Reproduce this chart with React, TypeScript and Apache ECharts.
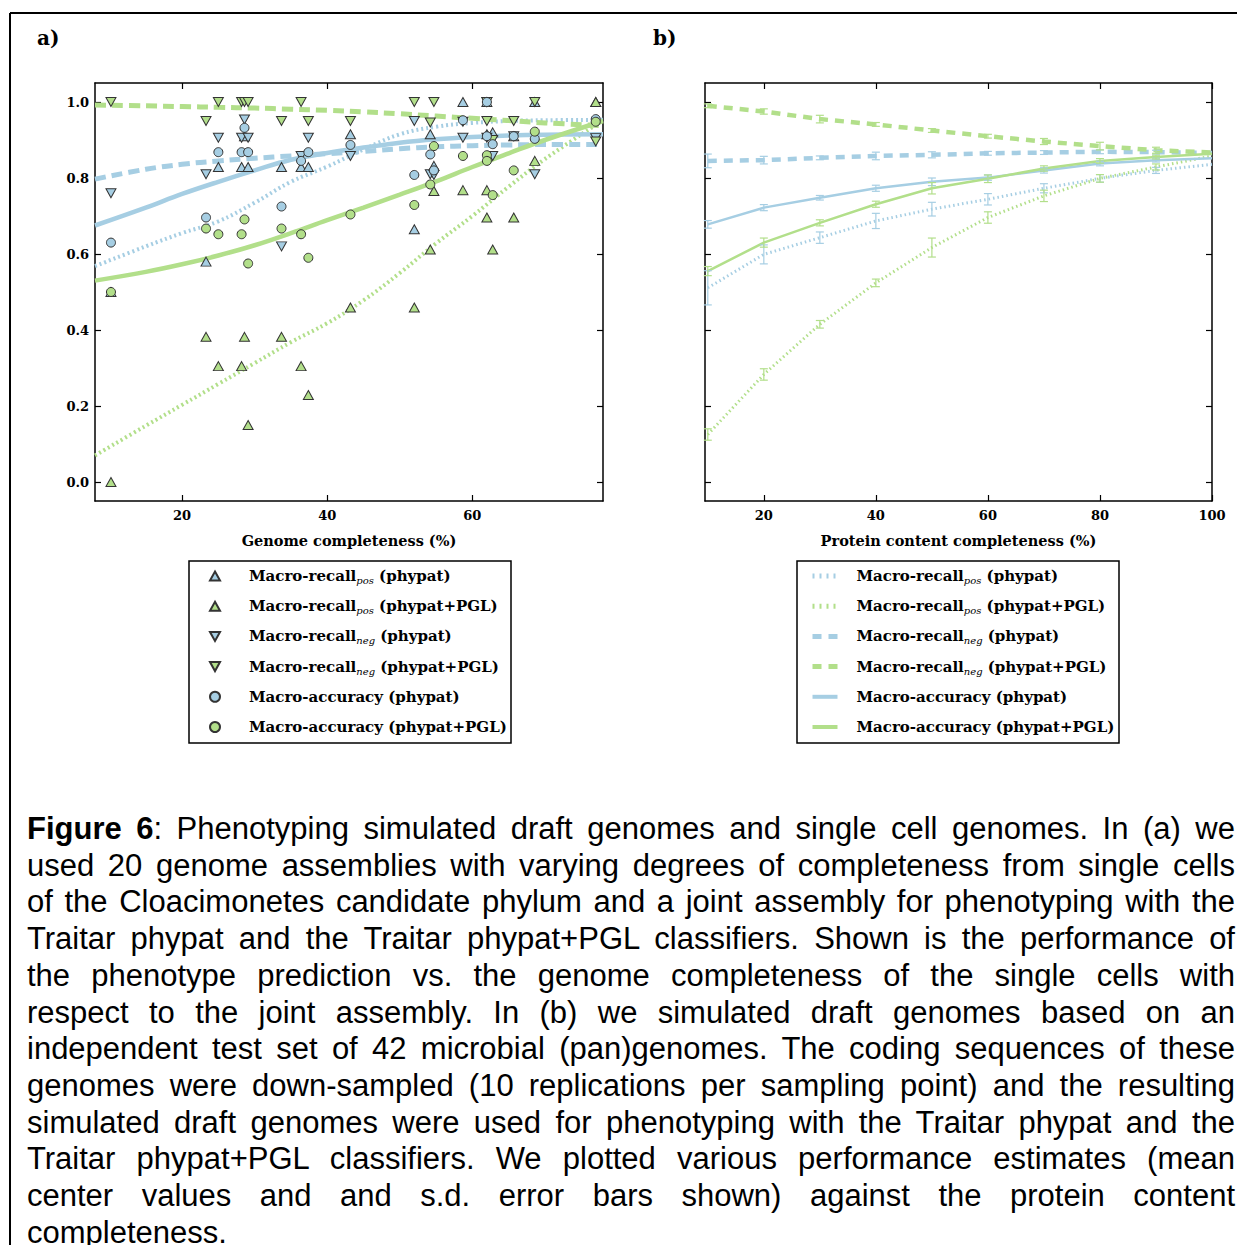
import React, { useEffect, useRef } from "react";
import * as echarts from "echarts";

const BLUE = "#a6cee3";
const GREEN = "#b2df8a";
const SERIF = '"DejaVu Serif", serif';

// ---------- Panel a: single-cell genomes ----------
const genomeCompleteness = [10.2, 23.3, 25.0, 28.2, 28.6, 29.1, 33.7, 36.4, 37.4, 43.2, 52.0, 54.2, 54.7, 58.7, 62.0, 62.0, 62.8, 65.7, 68.6, 77.0];
const recallPosPhypat = [0.5, 0.58, 0.829, 0.829, 0.91, 0.829, 0.829, 0.829, 0.829, 0.915, 0.665, 0.915, 0.832, 1.0, 1.0, 0.915, 0.92, 0.91, 1.0, 1.0];
const recallPosPGL = [0.0, 0.382, 0.305, 0.305, 0.382, 0.15, 0.382, 0.305, 0.229, 0.459, 0.459, 0.612, 0.766, 0.768, 0.768, 0.696, 0.612, 0.696, 0.845, 1.0];
const recallNegPhypat = [0.76, 0.81, 0.906, 0.906, 0.954, 0.906, 0.62, 0.858, 0.906, 0.858, 0.95, 0.81, 0.808, 0.906, 1.0, 0.906, 0.858, 0.91, 0.81, 0.905];
const recallNegPGL = [1.0, 0.95, 1.0, 1.0, 1.0, 1.0, 0.95, 1.0, 0.95, 0.95, 1.0, 0.946, 1.0, 0.948, 0.95, 1.0, 0.9, 0.95, 1.0, 0.896];
const accPhypat = [0.63, 0.696, 0.868, 0.868, 0.932, 0.868, 0.725, 0.845, 0.868, 0.887, 0.808, 0.862, 0.82, 0.952, 1.0, 0.91, 0.889, 0.91, 0.903, 0.955];
const accPGL = [0.5, 0.667, 0.652, 0.652, 0.691, 0.575, 0.667, 0.652, 0.59, 0.704, 0.729, 0.783, 0.884, 0.858, 0.86, 0.845, 0.755, 0.82, 0.922, 0.948];

// fitted trend curves
const fitX = [8, 15, 20, 25, 30, 35, 40, 45, 50, 55, 60, 65, 70, 78];
const fitPosPhypat = [0.568, 0.62, 0.655, 0.686, 0.735, 0.79, 0.83, 0.875, 0.915, 0.935, 0.945, 0.95, 0.952, 0.953];
const fitPosPGL = [0.07, 0.148, 0.203, 0.258, 0.313, 0.368, 0.418, 0.478, 0.55, 0.628, 0.7, 0.777, 0.85, 0.952];
const fitNegPhypat = [0.797, 0.823, 0.836, 0.845, 0.852, 0.858, 0.864, 0.87, 0.877, 0.882, 0.885, 0.887, 0.888, 0.888];
const fitNegPGL = [0.992, 0.99, 0.988, 0.986, 0.984, 0.981, 0.978, 0.974, 0.969, 0.963, 0.957, 0.951, 0.945, 0.938];
const fitAccPhypat = [0.675, 0.722, 0.758, 0.79, 0.82, 0.848, 0.866, 0.88, 0.893, 0.902, 0.908, 0.912, 0.914, 0.915];
const fitAccPGL = [0.53, 0.553, 0.573, 0.596, 0.623, 0.655, 0.689, 0.722, 0.756, 0.791, 0.829, 0.865, 0.9, 0.95];

// ---------- Panel b: simulated draft genomes ----------
const proteinCompleteness = [10, 20, 30, 40, 50, 60, 70, 80, 90, 100];
const bPosPhypat = [0.511, 0.599, 0.643, 0.687, 0.718, 0.744, 0.773, 0.799, 0.82, 0.836];
const bPosPhypatSd = [0.045, 0.025, 0.015, 0.02, 0.018, 0.015, 0.012, 0.01, 0.008, 0];
const bPosPGL = [0.125, 0.283, 0.415, 0.524, 0.617, 0.696, 0.753, 0.799, 0.829, 0.858];
const bPosPGLSd = [0.015, 0.015, 0.01, 0.01, 0.025, 0.015, 0.015, 0.01, 0.008, 0];
const bNegPhypat = [0.845, 0.847, 0.853, 0.858, 0.861, 0.865, 0.867, 0.869, 0.868, 0.866];
const bNegPhypatSd = [0.018, 0.01, 0.005, 0.01, 0.008, 0.005, 0.005, 0.005, 0.005, 0];
const bNegPGL = [0.99, 0.975, 0.955, 0.941, 0.925, 0.91, 0.896, 0.884, 0.873, 0.867];
const bNegPGLSd = [0.005, 0.007, 0.01, 0.005, 0.005, 0.005, 0.008, 0.01, 0.008, 0];
const bAccPhypat = [0.678, 0.722, 0.748, 0.773, 0.79, 0.801, 0.82, 0.838, 0.847, 0.852];
const bAccPhypatSd = [0.01, 0.008, 0.006, 0.008, 0.01, 0.007, 0.007, 0.006, 0.005, 0];
const bAccPGL = [0.555, 0.63, 0.682, 0.731, 0.773, 0.798, 0.825, 0.845, 0.855, 0.864];
const bAccPGLSd = [0.012, 0.012, 0.008, 0.008, 0.015, 0.01, 0.007, 0.006, 0.005, 0];

// ---------- ticks ----------
const yTicks = [0, 0.2, 0.4, 0.6, 0.8, 1.0];
const xTicksA = [20, 40, 60];
const xTicksB = [20, 40, 60, 80, 100];

// ---------- legend labels ----------
const legendLabels: Record<string, string> = {
  PosP: "{f|Macro-recall}{s|pos}{m| (phypat)}",
  PosG: "{f|Macro-recall}{s|pos}{m| (phypat+PGL)}",
  NegP: "{f|Macro-recall}{s|neg}{m| (phypat)}",
  NegG: "{f|Macro-recall}{s|neg}{m| (phypat+PGL)}",
  AccP: "{f|Macro-accuracy (phypat)}",
  AccG: "{f|Macro-accuracy (phypat+PGL)}",
};
const legendKeys = ["PosP", "PosG", "NegP", "NegG", "AccP", "AccG"];
const DOWN_TRI = "path://M0,0L10,0L5,9Z";
const UP_TRI = "path://M5,0L10,9L0,9Z";

const captionLines = [
  "Phenotyping simulated draft genomes and single cell genomes. In (a) we",
  "used 20 genome assemblies with varying degrees of completeness from single cells",
  "of the Cloacimonetes candidate phylum and a joint assembly for phenotyping with the",
  "Traitar phypat and the Traitar phypat+PGL classifiers. Shown is the performance of",
  "the phenotype prediction vs. the genome completeness of the single cells with",
  "respect to the joint assembly. In (b) we simulated draft genomes based on an",
  "independent test set of 42 microbial (pan)genomes. The coding sequences of these",
  "genomes were down-sampled (10 replications per sampling point) and the resulting",
  "simulated draft genomes were used for phenotyping with the Traitar phypat and the",
  "Traitar phypat+PGL classifiers. We plotted various performance estimates (mean",
  "center values and and s.d. error bars shown) against the protein content",
  "completeness.",
];

function richFor(pad: number) {
  const base = { fontFamily: SERIF, fontWeight: "bold", fontSize: 15, lineHeight: 20, height: 20, color: "#000" };
  return {
    f: { ...base, padding: [0, 0, 0, pad] },
    m: { ...base },
    s: { fontFamily: SERIF, fontStyle: "italic", fontWeight: "normal", fontSize: 10, lineHeight: 10, padding: [9, 0, 0, 0], color: "#000" },
  };
}

function axisCommon(min: number, max: number, ticks: number[], showLabel: boolean, gridIndex: number, position: string, isY: boolean) {
  return {
    type: "value",
    gridIndex,
    position,
    min,
    max,
    axisLine: { show: true, onZero: false, lineStyle: { color: "#000", width: 1.5 } },
    axisTick: { show: true, inside: true, length: 6, customValues: ticks, lineStyle: { color: "#000", width: 1.2 } },
    axisLabel: {
      show: showLabel,
      customValues: ticks,
      margin: isY ? 6 : 8,
      fontFamily: SERIF,
      fontWeight: "bold",
      fontSize: 13,
      color: "#000",
      formatter: isY ? (v: number) => v.toFixed(1) : (v: number) => String(v),
    },
    splitLine: { show: false },
  };
}

function pts(xs: number[], ys: number[]) {
  return xs.map((x, i) => [x, ys[i]]);
}

function scatter(name: string, ys: number[], color: string, symbol: string, rotate: number) {
  return {
    name,
    type: "scatter",
    xAxisIndex: 0,
    yAxisIndex: 0,
    data: pts(genomeCompleteness, ys),
    symbol,
    symbolRotate: rotate,
    symbolSize: symbol === "circle" ? 9 : [10, 9],
    itemStyle: { color, borderColor: "#333", borderWidth: 1, opacity: 1 },
    z: 4,
    silent: true,
  };
}

function fitLine(name: string, ys: number[], color: string, width: number, dash: any) {
  return {
    name,
    type: "line",
    xAxisIndex: 0,
    yAxisIndex: 0,
    data: pts(fitX, ys),
    smooth: 0.4,
    symbol: "none",
    showSymbol: false,
    lineStyle: { color, width, type: dash, cap: "butt" },
    itemStyle: { color },
    z: 2,
    silent: true,
  };
}

function bLine(name: string, ys: number[], color: string, width: number, dash: any) {
  return {
    name,
    type: "line",
    xAxisIndex: 2,
    yAxisIndex: 2,
    data: pts(proteinCompleteness, ys),
    symbol: "none",
    showSymbol: false,
    lineStyle: { color, width, type: dash, cap: "butt" },
    itemStyle: { color: "rgba(0,0,0,0)", borderWidth: 0 },
    z: 2,
    silent: true,
  };
}

function errBars(id: string, ys: number[], sd: number[], color: string) {
  const data = proteinCompleteness
    .map((x, i) => [x, ys[i] - sd[i], ys[i] + sd[i], sd[i]])
    .filter((d) => d[3] > 0);
  return {
    id,
    type: "custom",
    xAxisIndex: 2,
    yAxisIndex: 2,
    data,
    encode: { x: 0, y: [1, 2] },
    z: 3,
    silent: true,
    renderItem: (params: any, api: any) => {
      const lo = api.coord([api.value(0), api.value(1)]);
      const hi = api.coord([api.value(0), api.value(2)]);
      const w = 4;
      const style = { stroke: color, lineWidth: 1.2 };
      return {
        type: "group",
        children: [
          { type: "line", shape: { x1: lo[0], y1: lo[1], x2: hi[0], y2: hi[1] }, style },
          { type: "line", shape: { x1: lo[0] - w, y1: lo[1], x2: lo[0] + w, y2: lo[1] }, style },
          { type: "line", shape: { x1: hi[0] - w, y1: hi[1], x2: hi[0] + w, y2: hi[1] }, style },
        ],
      };
    },
  };
}

const DOT_A = [2, 3];
const DASH_A = [11, 6];
const DOT_B = [1.5, 3];
const DASH_B = [9, 7];

const legendLineStyleB: Record<string, any> = {
  PosP: { color: BLUE, width: 5, type: [2, 5], cap: "butt" },
  PosG: { color: GREEN, width: 5, type: [2, 5], cap: "butt" },
  NegP: { color: BLUE, width: 5, type: [9, 7], cap: "butt" },
  NegG: { color: GREEN, width: 5, type: [9, 7], cap: "butt" },
  AccP: { color: BLUE, width: 4, type: "solid", cap: "butt" },
  AccG: { color: GREEN, width: 4, type: "solid", cap: "butt" },
};

const nameStyle = { fontFamily: SERIF, fontWeight: "bold", fontSize: 14.5, color: "#000" };

const option: any = {
  animation: false,
  backgroundColor: "#fff",
  grid: [
    { left: 95, top: 83, width: 508, height: 418 },
    { left: 705, top: 83, width: 507, height: 418 },
  ],
  xAxis: [
    {
      ...axisCommon(8, 78, xTicksA, true, 0, "bottom", false),
      name: "Genome completeness (%)",
      nameLocation: "middle",
      nameGap: 32,
      nameTextStyle: nameStyle,
    },
    axisCommon(8, 78, xTicksA, false, 0, "top", false),
    {
      ...axisCommon(9.5, 100, xTicksB, true, 1, "bottom", false),
      name: "Protein content completeness (%)",
      nameLocation: "middle",
      nameGap: 32,
      nameTextStyle: nameStyle,
    },
    axisCommon(9.5, 100, xTicksB, false, 1, "top", false),
  ],
  yAxis: [
    axisCommon(-0.05, 1.05, yTicks, true, 0, "left", true),
    axisCommon(-0.05, 1.05, yTicks, false, 0, "right", true),
    axisCommon(-0.05, 1.05, yTicks, false, 1, "left", true),
    axisCommon(-0.05, 1.05, yTicks, false, 1, "right", true),
  ],
  legend: [
    {
      data: legendKeys.map((k) => ({
        name: "a" + k,
        icon: k.startsWith("Neg") ? DOWN_TRI : k.startsWith("Pos") ? UP_TRI : "circle",
      })),
      orient: "vertical",
      left: 209,
      top: 566,
      padding: 0,
      itemWidth: 10,
      itemHeight: 10,
      itemGap: 10.2,
      selectedMode: false,
      formatter: (n: string) => legendLabels[n.slice(1)],
      textStyle: { height: 20, lineHeight: 20, rich: richFor(24) },
    },
    {
      data: legendKeys.map((k) => ({ name: "b" + k, lineStyle: legendLineStyleB[k] })),
      orient: "vertical",
      left: 810,
      top: 566,
      padding: 0,
      itemWidth: 25,
      itemHeight: 10,
      itemGap: 10.2,
      selectedMode: false,
      lineStyle: { width: "inherit" },
      formatter: (n: string) => legendLabels[n.slice(1)],
      textStyle: { height: 20, lineHeight: 20, rich: richFor(14) },
    },
  ],
  graphic: [
    { type: "line", shape: { x1: 10, y1: 13, x2: 1237, y2: 13 }, style: { stroke: "#000", lineWidth: 2 }, silent: true },
    { type: "line", shape: { x1: 10, y1: 13, x2: 10, y2: 1245 }, style: { stroke: "#000", lineWidth: 2 }, silent: true },
    { type: "text", x: 37, y: 38, style: { text: "a)", font: `bold 20px ${SERIF}`, fill: "#000", textVerticalAlign: "middle" }, silent: true },
    { type: "text", x: 653, y: 38, style: { text: "b)", font: `bold 20px ${SERIF}`, fill: "#000", textVerticalAlign: "middle" }, silent: true },
    { type: "rect", shape: { x: 189, y: 561, width: 322, height: 182 }, style: { fill: "none", stroke: "#000", lineWidth: 1.5 }, silent: true },
    { type: "rect", shape: { x: 797, y: 561, width: 322, height: 182 }, style: { fill: "none", stroke: "#000", lineWidth: 1.5 }, silent: true },
  ],
  series: [
    fitLine("fitPosP", fitPosPhypat, BLUE, 4, DOT_A),
    fitLine("fitPosG", fitPosPGL, GREEN, 4, DOT_A),
    fitLine("fitNegP", fitNegPhypat, BLUE, 5, DASH_A),
    fitLine("fitNegG", fitNegPGL, GREEN, 5, DASH_A),
    fitLine("fitAccP", fitAccPhypat, BLUE, 4.5, "solid"),
    fitLine("fitAccG", fitAccPGL, GREEN, 4.5, "solid"),
    scatter("aPosP", recallPosPhypat, BLUE, "triangle", 0),
    scatter("aPosG", recallPosPGL, GREEN, "triangle", 0),
    scatter("aNegP", recallNegPhypat, BLUE, "triangle", 180),
    scatter("aNegG", recallNegPGL, GREEN, "triangle", 180),
    scatter("aAccP", accPhypat, BLUE, "circle", 0),
    scatter("aAccG", accPGL, GREEN, "circle", 0),
    bLine("bPosP", bPosPhypat, BLUE, 3, DOT_B),
    bLine("bPosG", bPosPGL, GREEN, 3, DOT_B),
    bLine("bNegP", bNegPhypat, BLUE, 4.5, DASH_B),
    bLine("bNegG", bNegPGL, GREEN, 4.5, DASH_B),
    bLine("bAccP", bAccPhypat, BLUE, 2.5, "solid"),
    bLine("bAccG", bAccPGL, GREEN, 2.5, "solid"),
    errBars("ePosP", bPosPhypat, bPosPhypatSd, BLUE),
    errBars("ePosG", bPosPGL, bPosPGLSd, GREEN),
    errBars("eNegP", bNegPhypat, bNegPhypatSd, BLUE),
    errBars("eNegG", bNegPGL, bNegPGLSd, GREEN),
    errBars("eAccP", bAccPhypat, bAccPhypatSd, BLUE),
    errBars("eAccG", bAccPGL, bAccPGLSd, GREEN),
  ],
};

export default function App() {
  const ref = useRef<HTMLDivElement>(null);
  useEffect(() => {
    if (!ref.current) return;
    const chart = echarts.init(ref.current, null, { renderer: "svg" });
    chart.setOption(option);
    return () => chart.dispose();
  }, []);
  const last = captionLines.length - 1;
  return (
    <div style={{ position: "absolute", left: 0, top: 0, width: 1237, height: 1245, overflow: "hidden", background: "#fff" }}>
      <div ref={ref} style={{ position: "absolute", left: 0, top: 0, width: 1237, height: 1245 }} />
      <div
        style={{
          position: "absolute",
          left: 27,
          top: 811,
          width: 1208,
          fontFamily: '"Liberation Sans", Arial, sans-serif',
          fontSize: 31,
          lineHeight: "36.7px",
          color: "#000",
        }}
      >
        {captionLines.map((line, i) => (
          <div key={i} style={{ textAlign: "justify", textAlignLast: i < last ? "justify" : "left" } as any}>
            {i === 0 ? (
              <>
                <b>Figure 6</b>: {line}
              </>
            ) : (
              line
            )}
          </div>
        ))}
      </div>
    </div>
  );
}
